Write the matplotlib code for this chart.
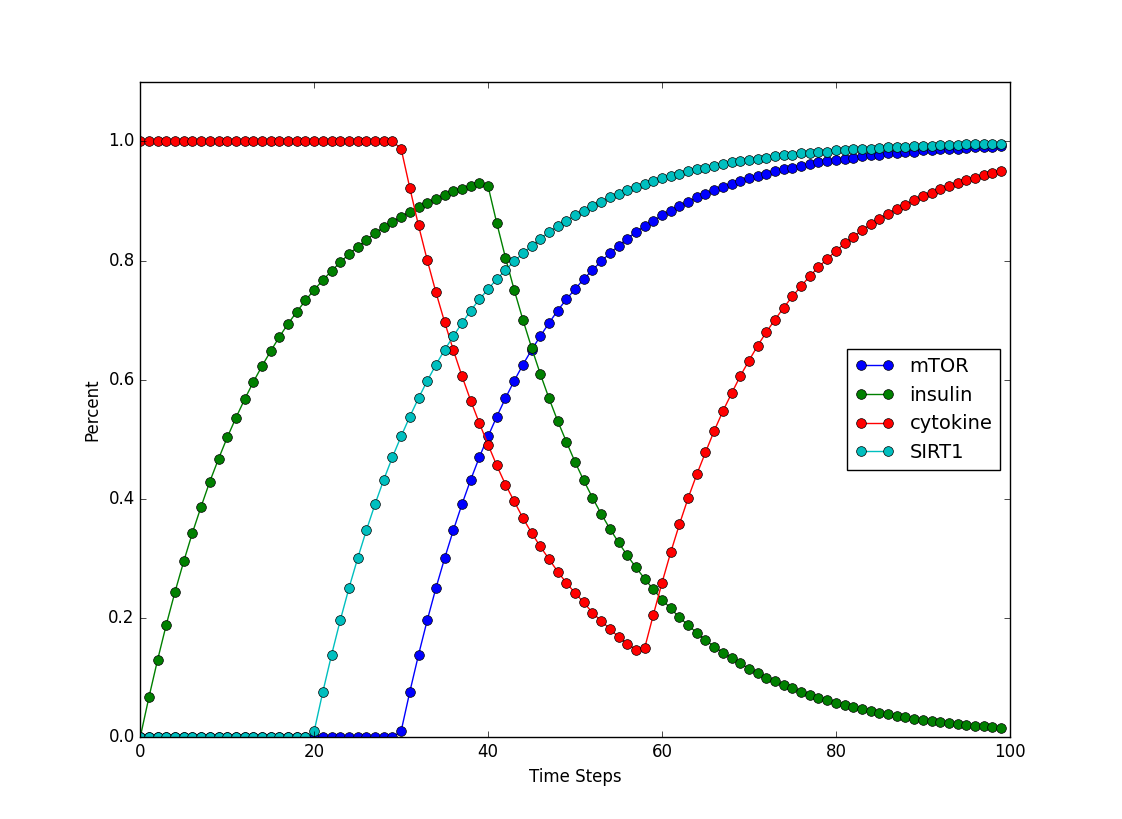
import matplotlib
matplotlib.use('Agg')
import matplotlib.pyplot as plt
import numpy as np

plt.style.use('classic')

time_steps = np.arange(100)

mtor = [0.0] * 30 + [
    0.010, 0.076, 0.138, 0.196, 0.250, 0.300, 0.347, 0.391, 0.432, 0.470,
    0.505, 0.538, 0.569, 0.598, 0.625, 0.650, 0.673, 0.695, 0.716, 0.735,
    0.752, 0.769, 0.784, 0.799, 0.812, 0.825, 0.837, 0.848, 0.858, 0.867,
    0.876, 0.884, 0.892, 0.899, 0.906, 0.912, 0.918, 0.924, 0.929, 0.934,
    0.938, 0.942, 0.946, 0.950, 0.953, 0.956, 0.959, 0.962, 0.965, 0.967,
    0.969, 0.971, 0.973, 0.975, 0.977, 0.978, 0.980, 0.981, 0.982, 0.983,
    0.985, 0.986, 0.987, 0.988, 0.988, 0.989, 0.990, 0.991, 0.991, 0.992,
]

insulin = [
    0.000, 0.067, 0.130, 0.189, 0.244, 0.295, 0.343, 0.387, 0.429, 0.467,
    0.503, 0.536, 0.567, 0.596, 0.623, 0.648, 0.672, 0.694, 0.714, 0.733,
    0.751, 0.767, 0.783, 0.797, 0.811, 0.823, 0.835, 0.846, 0.856, 0.865,
    0.874, 0.882, 0.890, 0.897, 0.904, 0.910, 0.916, 0.921, 0.926, 0.931,
    0.925, 0.863, 0.805, 0.751, 0.701, 0.654, 0.610, 0.569, 0.531, 0.496,
    0.462, 0.431, 0.402, 0.375, 0.350, 0.327, 0.305, 0.285, 0.266, 0.248,
    0.231, 0.216, 0.201, 0.188, 0.175, 0.163, 0.152, 0.142, 0.133, 0.124,
    0.115, 0.108, 0.100, 0.094, 0.087, 0.082, 0.076, 0.071, 0.066, 0.062,
    0.058, 0.054, 0.050, 0.047, 0.044, 0.041, 0.038, 0.036, 0.033, 0.031,
    0.029, 0.027, 0.025, 0.023, 0.022, 0.020, 0.019, 0.018, 0.017, 0.015,
]

cytokine = [1.0] * 30 + [
    0.988, 0.922, 0.859, 0.801, 0.747, 0.697, 0.650, 0.606, 0.565, 0.527,
    0.491, 0.456, 0.424, 0.396, 0.368, 0.343, 0.320, 0.299, 0.278, 0.259,
    0.242, 0.226, 0.209, 0.195, 0.182, 0.168, 0.157, 0.147, 0.149, 0.205,
    0.259, 0.310, 0.357, 0.401, 0.441, 0.478, 0.514, 0.547, 0.577, 0.606,
    0.632, 0.657, 0.680, 0.701, 0.721, 0.740, 0.757, 0.774, 0.789, 0.803,
    0.816, 0.829, 0.840, 0.851, 0.861, 0.870, 0.879, 0.887, 0.894, 0.901,
    0.908, 0.914, 0.920, 0.925, 0.930, 0.935, 0.939, 0.943, 0.947, 0.951,
]

sirt1 = [0.0] * 20 + [
    0.010, 0.076, 0.138, 0.196, 0.250, 0.300, 0.347, 0.391, 0.432, 0.470,
    0.505, 0.538, 0.569, 0.598, 0.625, 0.650, 0.673, 0.695, 0.716, 0.735,
    0.752, 0.769, 0.784, 0.799, 0.812, 0.825, 0.837, 0.848, 0.858, 0.867,
    0.876, 0.884, 0.892, 0.899, 0.906, 0.912, 0.918, 0.924, 0.929, 0.934,
    0.938, 0.942, 0.946, 0.950, 0.953, 0.956, 0.959, 0.962, 0.965, 0.967,
    0.969, 0.971, 0.973, 0.975, 0.977, 0.978, 0.980, 0.981, 0.982, 0.983,
    0.985, 0.986, 0.987, 0.988, 0.988, 0.989, 0.990, 0.991, 0.991, 0.992,
    0.993, 0.993, 0.994, 0.994, 0.994, 0.995, 0.995, 0.996, 0.996, 0.996,
]

series = [('mTOR', mtor, 'b'), ('insulin', insulin, 'g'),
          ('cytokine', cytokine, 'r'), ('SIRT1', sirt1, 'c')]

fig = plt.figure(figsize=(11.22, 8.19), dpi=100, facecolor='white')
ax = fig.add_subplot(111)

for name, vals, col in series:
    ax.plot(time_steps, vals, marker='o', color=col, label=name,
            markersize=7, markeredgecolor='black', markeredgewidth=0.5)

ax.set_xlim(0, 100)
ax.set_ylim(0, 1.1)
ax.set_yticks([0.0, 0.2, 0.4, 0.6, 0.8, 1.0])
ax.set_xlabel('Time Steps')
ax.set_ylabel('Percent')
ax.legend(loc='center right', numpoints=2, fontsize=14)

fig.savefig('out.png', dpi=100, facecolor='white')
